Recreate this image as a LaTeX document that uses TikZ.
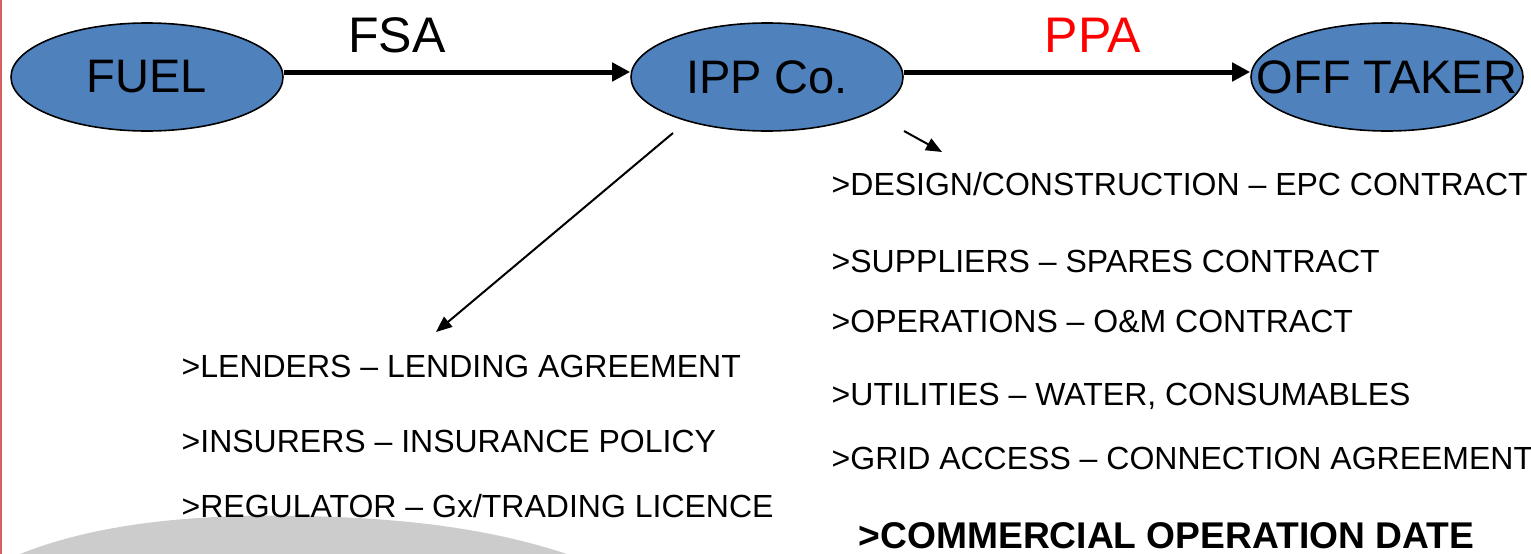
\documentclass[tikz,border=0pt]{standalone}
\usepackage{fontspec}
\setmainfont{Liberation Sans}
\usetikzlibrary{shapes.geometric,arrows.meta}
\definecolor{ellblue}{HTML}{4F81BD}
\definecolor{edgered}{RGB}{214,96,96}
\definecolor{swoosh}{RGB}{204,204,204}
\begin{document}
\begin{tikzpicture}[x=1pt,y=-1pt,
 ell/.style={ellipse, draw=black, line width=1.6pt, fill=ellblue, minimum width=272pt, minimum height=108pt, inner sep=0pt},
 elltext/.style={font=\fontsize{47}{50}\selectfont, inner sep=0pt},
 toplabel/.style={font=\fontsize{50}{54}\selectfont, inner sep=0pt, anchor=base},
 item/.style={font=\fontsize{32}{36}\selectfont, inner sep=0pt, anchor=base west},
 bolditem/.style={font=\fontsize{37.2}{40}\selectfont\bfseries, inner sep=0pt, anchor=base west},
 bigarrow/.style={line width=5pt, -{Triangle[length=18pt,width=18pt]}},
 thinarrow/.style={line width=2pt, -{Triangle[length=16pt,width=13pt]}}]
\useasboundingbox (0,0) rectangle (1531,554);
% background decoration
\fill[swoosh] (20,554) .. controls (100,522) and (200,514) .. (300,516) .. controls (420,518) and (500,532) .. (567,554) -- cycle;
\draw[edgered, line width=1.5pt] (1,0) -- (1,554);
% ellipses
\node[ell] (fuel) at (147,77) {};
\node[elltext] (fueltxt) at (fuel.center) {FUEL};
\node[ell] (ipp) at (767,77) {};
\node[elltext] (ipptxt) at (ipp.center) {IPP Co.};
\node[ell] (off) at (1387,77) {};
\node[elltext] (offtxt) at (off.center) {OFF TAKER};
% main connectors
\draw[bigarrow] ([yshift=5pt]fuel.east) -- ([yshift=5pt]ipp.west);
\draw[bigarrow] ([yshift=5pt]ipp.east) -- ([yshift=5pt]off.west);
\node[toplabel] (fsa) at (397,52) {FSA};
\node[toplabel, text=red] (ppa) at (1093,52) {PPA};
% left list
\node[item] (lenders) at (181.5,377) {>LENDERS – LENDING AGREEMENT};
\node[item] (insurers) at (181.5,452) {>INSURERS – INSURANCE POLICY};
\node[item] (regulator) at (181.5,517) {>REGULATOR – Gx/TRADING LICENCE};
% right list
\node[item] (design) at (831.5,195) {>DESIGN/CONSTRUCTION – EPC CONTRACT};
\node[item] (suppliers) at (831.5,272) {>SUPPLIERS – SPARES CONTRACT};
\node[item] (operations) at (831.5,332) {>OPERATIONS – O\&M CONTRACT};
\node[item] (utilities) at (831.5,405) {>UTILITIES – WATER, CONSUMABLES};
\node[item] (grid) at (831.5,469) {>GRID ACCESS – CONNECTION AGREEMENT};
\node[bolditem] (cod) at (858.5,548) {>COMMERCIAL OPERATION DATE};
% secondary arrows
\coordinate (lstart) at (673,133);
\coordinate (lend) at (436,332);
\draw[thinarrow] (lstart) -- (lend);
\coordinate (rstart) at (904,131);
\coordinate (rend) at (942,152);
\draw[thinarrow] (rstart) -- (rend);
\end{tikzpicture}
\end{document}
